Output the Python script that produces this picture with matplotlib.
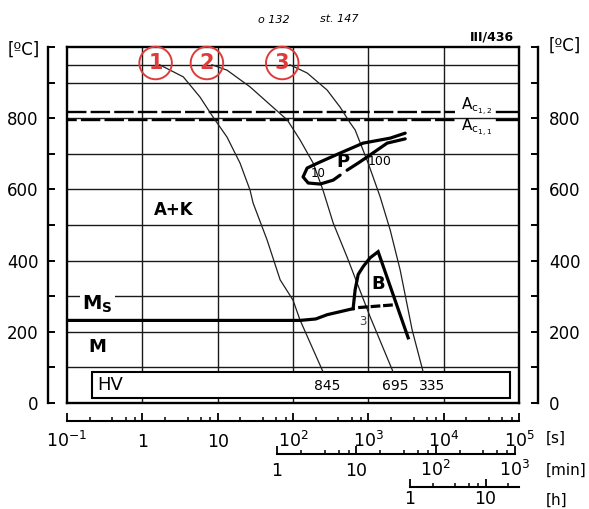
import matplotlib
matplotlib.use("Agg")
import matplotlib.pyplot as plt
from matplotlib.patches import Rectangle
from matplotlib.ticker import NullLocator
from matplotlib.transforms import blended_transform_factory

plt.rcParams['font.family'] = ['DejaVu Sans']
plt.rcParams['lines.scale_dashes'] = False

W, H = 589, 509

################### data ###################
grid_T = [100, 200, 300, 400, 500, 600, 700, 800, 900, 950]
grid_t = [1, 10, 100, 1e3, 1e4]

temp_ticks = [0, 100, 200, 300, 400, 500, 600, 700, 800, 900, 1000]
temp_labels = ['0', '', '200', '', '400', '', '600', '', '800', '', '']

ac12_T = 818
ac11_T = 796
ac_dash_end = 14200      # s, gap for the Ac label starts here
ac_solid_start = 51400   # s, short solid piece after the label

# cooling curves, time [s] / temperature [C]
curve1_t = [1.7, 3.5, 5.8, 8.7, 13.3, 19.8, 26.9, 29.5, 45.3, 67.5, 100, 124, 251]
curve1_T = [950, 916, 860, 803, 747, 674, 598, 562, 458, 346, 289, 233, 87]
curve2_t = [8.4, 13.3, 26.9, 54, 84, 124, 185, 250, 341, 522, 1057, 2135]
curve2_T = [950, 935, 888, 831, 795, 739, 674, 598, 506, 410, 242, 87]
curve3_t = [91, 154, 284, 422, 573, 668, 994, 1435, 1950, 2643, 3381, 3818, 5346]
curve3_T = [950, 927, 879, 831, 787, 767, 674, 579, 486, 374, 261, 205, 87]
curve_ids = ['1', '2', '3']
circle_t = [1.5, 7.2, 72]
circle_T = 955

# pearlite nose
p_outer_t = [3085, 1950, 853, 422, 229, 154, 136, 159, 229, 341, 422]
p_outer_T = [758, 744, 730, 702, 677, 660, 635, 618, 615, 626, 640]
p_inner_t = [522, 733, 964, 1778, 3085]
p_inner_T = [654, 674, 691, 730, 742]

# Ms line and bainite region
ms_t = [0.1, 124, 200, 284, 628]
ms_T = [232, 232, 236, 248, 265]
bain_t = [628, 668, 733, 853, 1057, 1349, 3381]
bain_T = [265, 318, 361, 383, 408, 425, 183]
bain_dash_t = [733, 2270]
bain_dash_T = [268, 276]

# hardness box
hv_t0, hv_t1, hv_T0, hv_T1 = 0.215, 76400, 15, 86
hv_values = ['845', '695', '335']
hv_t = [284, 2270, 7030]

s_major = [0.1, 1, 10, 100, 1e3, 1e4, 1e5]
s_labels = [r'$10^{-1}$', '1', '10', r'$10^2$', r'$10^3$', r'$10^4$', r'$10^5$']
min_major = [1, 10, 100, 1000]
min_labels = ['1', '10', r'$10^2$', r'$10^3$']
h_major = [1, 10]
h_labels = ['1', '10']
subs = [2, 4, 6, 8]

RED = '#de3b3b'


def fx(px):
    return px / W


def fy(py):
    return 1 - py / H


fig = plt.figure(figsize=(W / 100, H / 100), dpi=100)

################### main diagram ###################
ax = fig.add_axes([fx(67), fy(403), (519 - 67) / W, (403 - 47) / H])
ax.set_xscale('log')
ax.set_xlim(0.1, 1e5)
ax.set_ylim(0, 1000)
ax.set_xticks(grid_t)
ax.xaxis.set_minor_locator(NullLocator())
ax.set_yticks(grid_T)
ax.tick_params(which='both', length=0, labelbottom=False, labelleft=False)
ax.grid(True, color='#1a1a1a', lw=1.0)
ax.set_axisbelow(True)
for sp in ax.spines.values():
    sp.set_linewidth(1.7)

# Ac lines with the label gap
ax.plot([0.1, ac_dash_end], [ac12_T, ac12_T], color='k', lw=1.7, linestyle=(0, (14, 3)))
ax.plot([0.1, ac_dash_end], [ac11_T, ac11_T], color='k', lw=1.7, linestyle=(7, (14, 3)))
ax.plot([ac_solid_start, 1e5], [ac12_T, ac12_T], color='k', lw=1.7)
ax.plot([ac_solid_start, 1e5], [ac11_T, ac11_T], color='k', lw=1.7)
ax.text(17000, (ac12_T + ac11_T) / 2 - 3,
        'A$_{\\mathrm{c}_{1,2}}$\nA$_{\\mathrm{c}_{1,1}}$',
        fontsize=11, ha='left', va='center', linespacing=0.95)

# hardness box
ax.add_patch(Rectangle((hv_t0, hv_T0), hv_t1 - hv_t0, hv_T1 - hv_T0,
                       fc='white', ec='k', lw=1.5, zorder=2))
ax.text(0.25, 50, 'HV', fontsize=13, ha='left', va='center', zorder=5)
for t, v in zip(hv_t, hv_values):
    ax.text(t, 48, v, fontsize=10, ha='center', va='center', zorder=5)

# cooling curves
for ct, cT in [(curve1_t, curve1_T), (curve2_t, curve2_T), (curve3_t, curve3_T)]:
    ax.plot(ct, cT, color='#202020', lw=0.9, zorder=3)
for t, s in zip(circle_t, curve_ids):
    ax.text(t, circle_T, s, color=RED, fontsize=15, fontweight='bold',
            ha='center', va='center', zorder=6,
            bbox=dict(boxstyle='circle,pad=0.3', fc='none', ec=RED, lw=1.4))

# transformation lines
ax.plot(p_outer_t, p_outer_T, color='k', lw=2.3, zorder=4, solid_capstyle='round')
ax.plot(p_inner_t, p_inner_T, color='k', lw=2.3, zorder=4, solid_capstyle='round')
ax.plot(ms_t, ms_T, color='k', lw=2.3, zorder=4)
ax.plot(bain_t, bain_T, color='k', lw=2.3, zorder=4, solid_joinstyle='miter')
ax.plot(bain_dash_t, bain_dash_T, color='k', lw=2.3, linestyle=(0, (7, 2)), zorder=4)

# region labels
ax.text(2.64, 542, 'A+K', fontsize=12, fontweight='bold', ha='center', va='center')
ax.text(0.158, 276, r'$\mathbf{M_S}$', fontsize=14, ha='left', va='center', zorder=5,
        bbox=dict(fc='white', ec='none', pad=1.5))
ax.text(0.25, 157, 'M', fontsize=13, fontweight='bold', ha='center', va='center')
ax.text(1349, 334, 'B', fontsize=13, fontweight='bold', ha='center', va='center')
ax.text(462, 676, 'P', fontsize=13, fontweight='bold', ha='center', va='center')
ax.text(215, 646, '10', fontsize=8.5, ha='center', va='center')
ax.text(993, 679, '100', fontsize=9, ha='left', va='center')
ax.text(853, 228, '3', fontsize=8.5, ha='center', va='center', color='#444444')

################### temperature scales ###################
ax_l = fig.add_axes([fx(48), fy(403), 0.02, (403 - 47) / H])
ax_l.set_ylim(0, 1000)
ax_l.set_xticks([])
ax_l.patch.set_visible(False)
for k in ('right', 'top', 'bottom'):
    ax_l.spines[k].set_visible(False)
ax_l.spines['left'].set_linewidth(1.7)
ax_l.set_yticks(temp_ticks, temp_labels)
ax_l.tick_params(axis='y', direction='in', length=5, width=1.4, labelsize=12, pad=7)

ax_r = fig.add_axes([fx(538) - 0.02, fy(403), 0.02, (403 - 47) / H])
ax_r.set_ylim(0, 1000)
ax_r.set_xticks([])
ax_r.patch.set_visible(False)
for k in ('left', 'top', 'bottom'):
    ax_r.spines[k].set_visible(False)
ax_r.spines['right'].set_linewidth(1.7)
ax_r.yaxis.tick_right()
ax_r.set_yticks(temp_ticks, temp_labels)
ax_r.tick_params(axis='y', direction='in', length=5, width=1.4, labelsize=12, pad=8)

fig.text(fx(8), fy(50), '[ºC]', fontsize=12, ha='left', va='center')
fig.text(fx(549), fy(46), '[ºC]', fontsize=12, ha='left', va='center')


################### time scales ###################
def time_axis(x0, x1, y, lo, hi, major, labels, minor, label_y):
    a = fig.add_axes([fx(x0), fy(y), (x1 - x0) / W, 0.0005])
    a.set_xscale('log')
    a.set_xlim(lo, hi)
    a.patch.set_visible(False)
    for k in ('left', 'right', 'top'):
        a.spines[k].set_visible(False)
    a.spines['bottom'].set_linewidth(1.5)
    a.set_yticks([])
    a.set_xticks(major)
    a.set_xticks(minor, minor=True)
    a.tick_params(axis='x', which='both', labelbottom=False, direction='in')
    a.tick_params(axis='x', which='major', length=5.5, width=1.3)
    a.tick_params(axis='x', which='minor', length=3, width=1.1)
    tr = blended_transform_factory(a.transData, fig.transFigure)
    for v, s in zip(major, labels):
        a.text(v, fy(label_y), s, transform=tr, ha='center', va='baseline', fontsize=12.5)
    return a


time_axis(67, 519, 421, 0.1, 1e5, s_major, s_labels,
          [m * d for d in s_major[:-1] for m in subs], 447)
time_axis(277, 515, 454, 1, 1000, min_major, min_labels,
          [m * d for d in min_major[:-1] for m in subs], 476)
time_axis(410, 519, 487, 1, 1e5 / 3600, h_major, h_labels,
          [2, 4, 6, 8, 20], 504)

fig.text(fx(546), fy(438), '[s]', fontsize=11, ha='left', va='center')
fig.text(fx(546), fy(470), '[min]', fontsize=11, ha='left', va='center')
fig.text(fx(546), fy(500), '[h]', fontsize=11, ha='left', va='center')

# scan annotations
fig.text(fx(258), fy(20), 'o 132', fontsize=8, style='italic', ha='left', va='center')
fig.text(fx(320), fy(19), 'st. 147', fontsize=8, style='italic', ha='left', va='center')
fig.text(fx(470), fy(37), 'III/436', fontsize=9, fontweight='bold', ha='left', va='center')

fig.savefig('out.png', dpi=100)
